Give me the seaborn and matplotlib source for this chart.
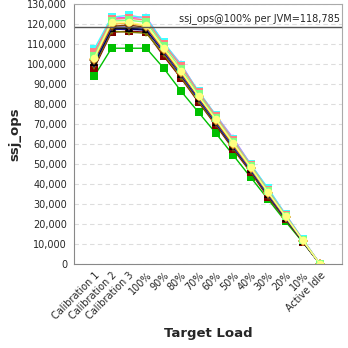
import matplotlib
matplotlib.use("Agg")
import matplotlib.pyplot as plt
import seaborn as sns
import pandas as pd
from matplotlib.ticker import FuncFormatter

loads = ["Calibration 1", "Calibration 2", "Calibration 3", "100%", "90%", "80%",
         "70%", "60%", "50%", "40%", "30%", "20%", "10%", "Active Idle"]

jvm01 = [94000, 108000, 108000, 108000, 98000, 86500, 76000, 65500, 54500, 43500, 32500, 21500, 11000, 0]
jvm02 = [98000, 116000, 116500, 116000, 104000, 93000, 81000, 69500, 57500, 46000, 33500, 22500, 11200, 0]
jvm03 = [99000, 116500, 116000, 115500, 105000, 93500, 81500, 70000, 58000, 46500, 34000, 22800, 11300, 0]
jvm04 = [100000, 117500, 117500, 117000, 106000, 94500, 82500, 70500, 58500, 47000, 34500, 23000, 11500, 0]
jvm05 = [101000, 118000, 118000, 117500, 106500, 95000, 83000, 71000, 59000, 47500, 35000, 23300, 11600, 0]
jvm06 = [102000, 119000, 119500, 118500, 107000, 95500, 83500, 71500, 59500, 48000, 35500, 23600, 11800, 0]
jvm07 = [103000, 121000, 121000, 119500, 108000, 96500, 84000, 72500, 60500, 48500, 36000, 24000, 12000, 0]
jvm08 = [104000, 121500, 122000, 121000, 109000, 97500, 85000, 73000, 61000, 49000, 36500, 24200, 12100, 0]
jvm09 = [106000, 122500, 123000, 122000, 110000, 99000, 86000, 74000, 62000, 49500, 37000, 24500, 12200, 0]
jvm10 = [107500, 123500, 124500, 123000, 111000, 99500, 86500, 74500, 62500, 50000, 38000, 25000, 12500, 0]
jvm11 = [105000, 123000, 123500, 123500, 110500, 100000, 86000, 74500, 63000, 50000, 37500, 25000, 12400, 0]
jvm12 = [105500, 122500, 123000, 122500, 110000, 99000, 85500, 74000, 62000, 49500, 37000, 24700, 12300, 0]
jvm13 = [101500, 118500, 118500, 118000, 106500, 95000, 83000, 71000, 59000, 47500, 35000, 23300, 11700, 0]
jvm14 = [102500, 120000, 120500, 119000, 107500, 96000, 84000, 72000, 60000, 48000, 35800, 23800, 11900, 0]

series = {"jvm01": jvm01, "jvm02": jvm02, "jvm03": jvm03, "jvm04": jvm04, "jvm05": jvm05,
          "jvm06": jvm06, "jvm07": jvm07, "jvm08": jvm08, "jvm09": jvm09, "jvm10": jvm10,
          "jvm11": jvm11, "jvm12": jvm12, "jvm13": jvm13, "jvm14": jvm14}
mean_100 = 118785

styles = {
    "jvm01": ("#00c000", "s"), "jvm02": ("#800000", "s"), "jvm03": ("#808000", "v"),
    "jvm04": ("#000080", "v"), "jvm05": ("#000000", "^"), "jvm06": ("#804000", "D"),
    "jvm07": ("#ffff80", "o"), "jvm08": ("#80ff80", "s"), "jvm09": ("#ff8080", "s"),
    "jvm10": ("#40ffff", "s"), "jvm11": ("#ff40ff", "^"), "jvm12": ("#c0c0ff", "^"),
    "jvm13": ("#4040ff", "v"), "jvm14": ("#ffc040", "D"),
}
order = ["jvm01", "jvm02", "jvm03", "jvm04", "jvm05", "jvm13", "jvm06", "jvm14",
         "jvm12", "jvm11", "jvm10", "jvm09", "jvm08", "jvm07"]

rows = []
for name, vals in series.items():
    for i, v in enumerate(vals):
        rows.append({"jvm": name, "idx": i, "ssj_ops": v})
df = pd.DataFrame(rows)

sns.set_style("white")
plt.rcParams["font.family"] = ["DejaVu Sans"]
fig, ax = plt.subplots(figsize=(3.48, 3.48), dpi=100)
fig.subplots_adjust(left=0.213, right=0.983, top=0.988, bottom=0.24)

for name in order:
    c, m = styles[name]
    sub = df[df["jvm"] == name]
    sns.lineplot(data=sub, x="idx", y="ssj_ops", ax=ax, color=c, marker=m,
                 markersize=5.5, markeredgewidth=0, linewidth=1.0, legend=False)

ax.axhline(mean_100, color="#555555", linewidth=1.0)
ax.text(14.15, mean_100 + 1500, "ssj_ops@100% per JVM=118,785",
        ha="right", va="bottom", fontsize=7)

ax.set_xlim(-1.15, 14.25)
ax.set_ylim(0, 130000)
ax.set_yticks(range(0, 130001, 10000))
ax.yaxis.set_major_formatter(FuncFormatter(lambda v, p: f"{int(v):,}"))
ax.set_xticks(range(len(loads)))
ax.set_xticklabels(loads, rotation=45, ha="right", rotation_mode="anchor", fontsize=7)
ax.tick_params(axis="y", labelsize=7, length=3, color="#888888", pad=2)
ax.tick_params(axis="x", length=3, color="#888888", pad=1)
ax.yaxis.grid(True, linestyle=(0, (4, 3)), color="#dddddd", linewidth=0.8)
ax.set_axisbelow(True)
for sp in ax.spines.values():
    sp.set_color("#aaaaaa")
ax.spines["left"].set_color("#888888")
ax.spines["bottom"].set_color("#888888")
ax.set_xlabel("Target Load", fontsize=9.5, fontweight="bold")
ax.set_ylabel("ssj_ops", fontsize=9.5, fontweight="bold")

fig.savefig("out.png", dpi=100)
